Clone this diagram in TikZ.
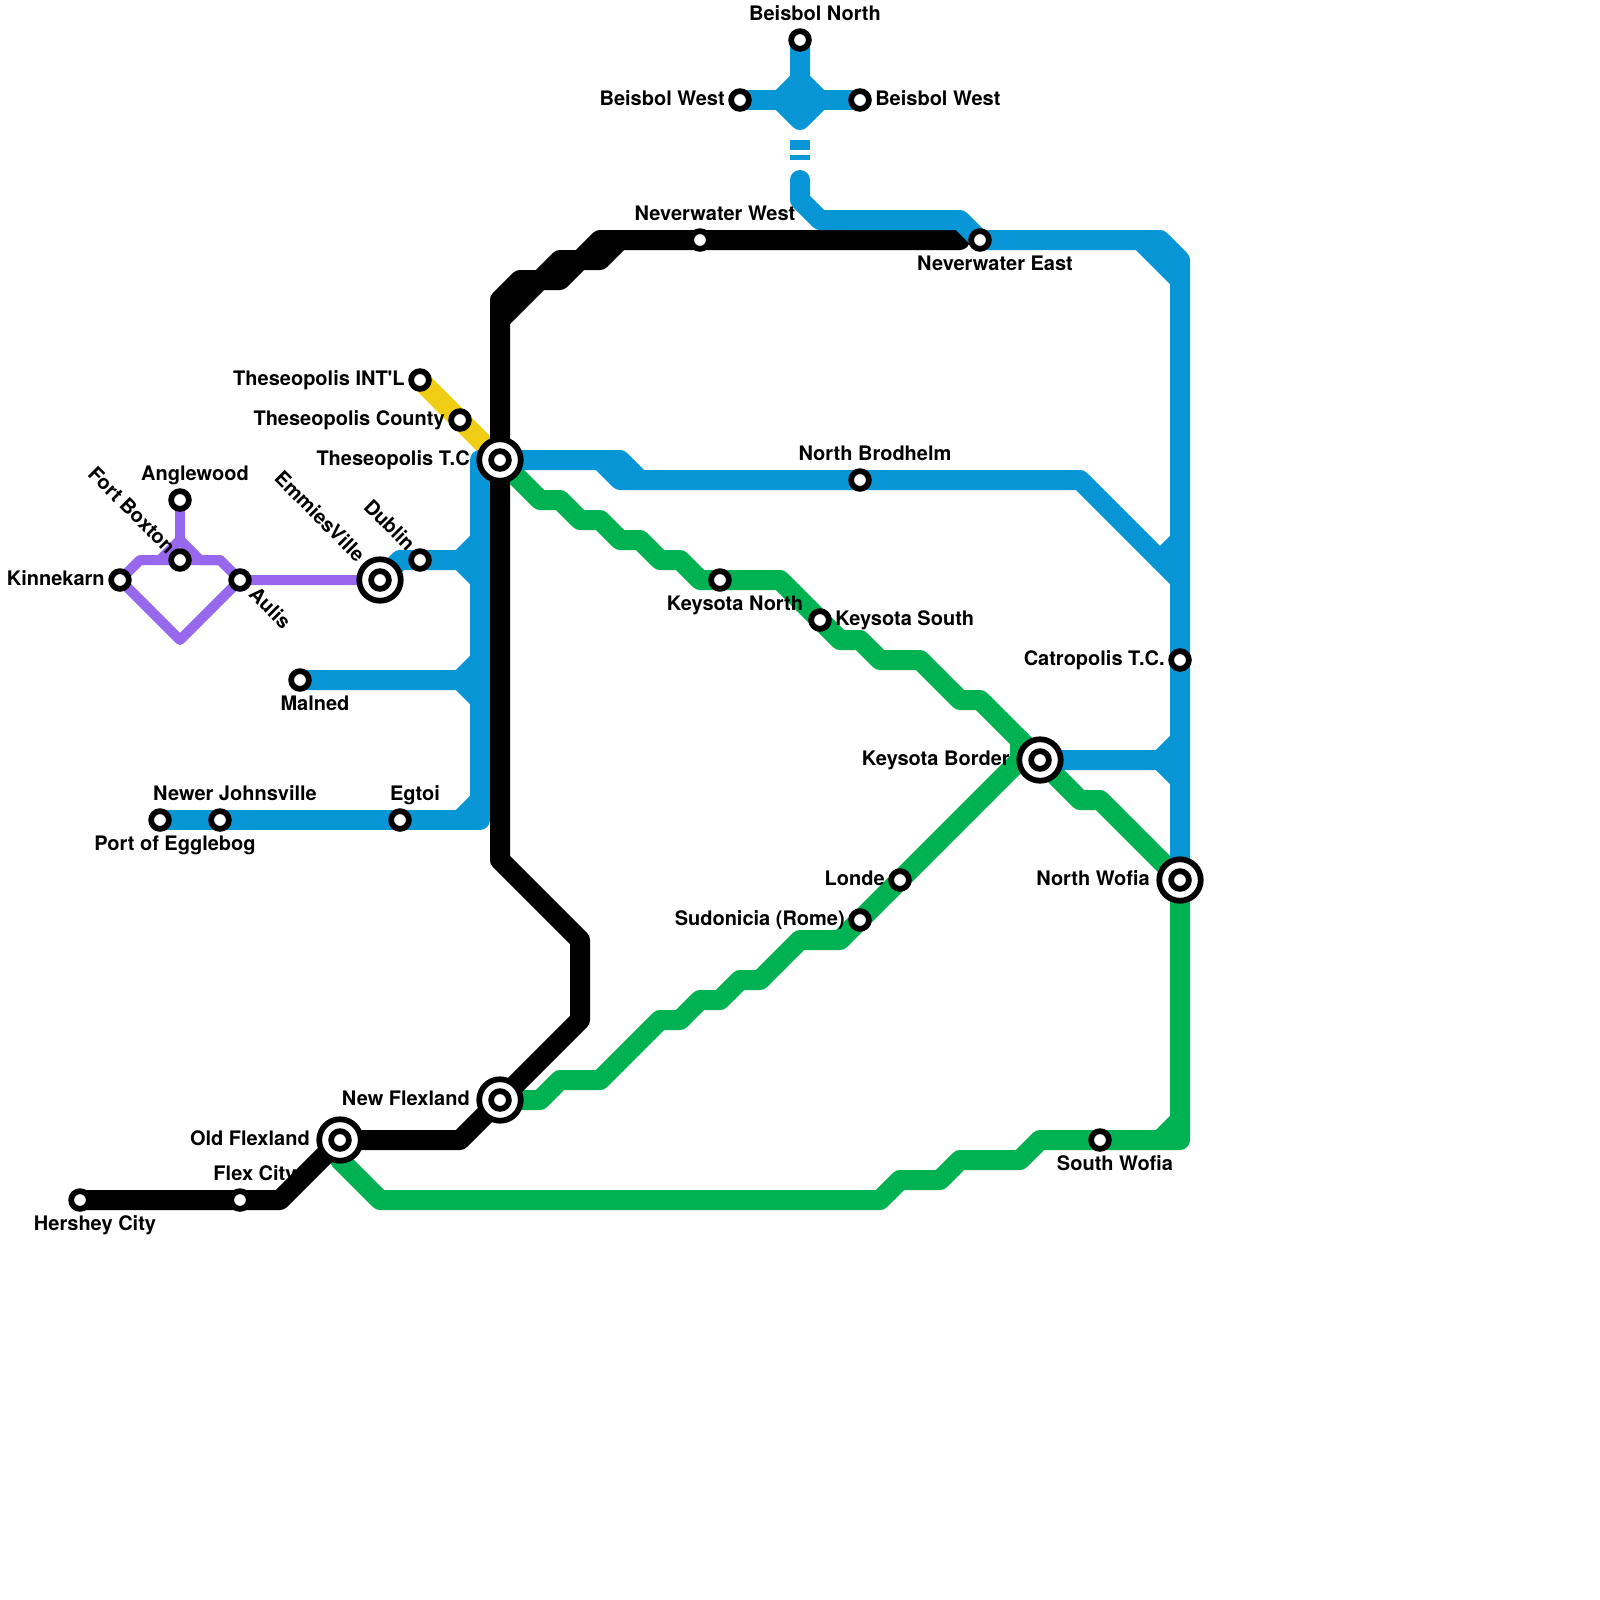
\documentclass[tikz,border=0pt]{standalone}
\usepackage{fontspec}
\newfontfamily\placefont{TeX Gyre Heros}
\pgfdeclarelayer{under}
\pgfdeclarelayer{tracks}
\pgfsetlayers{under,tracks,main}
\definecolor{lineblue}{HTML}{0896D7}
\definecolor{linegreen}{HTML}{00B251}
\definecolor{linepurple}{HTML}{9768EE}
\definecolor{lineyellow}{HTML}{F0CE15}
\tikzset{
  track/.style={line width=14.23pt, line join=round, line cap=round},
  thintrack/.style={line width=7.11pt, line join=round, line cap=round},
  station/.style={circle, draw=black, fill=white, line width=4.1pt, minimum size=12.6pt, inner sep=0pt},
  hub/.style={circle, draw=black, fill=white, line width=4.1pt, minimum size=29.5pt, inner sep=0pt},
  placename/.style={font=\placefont\fontsize{14.23}{17}\selectfont\bfseries, inner sep=0pt, text=black},
}
\begin{document}
\begin{tikzpicture}[x=0.5cm, y=-0.5cm]
    \useasboundingbox (0, 0) rectangle (80, 80);

    % Hubs
    \node[hub] (theseopolis) at (25, 23) {};
    \node[hub] (emmies) at (19, 29) {};
    \node[hub] (border) at (52, 38) {};
    \node[hub] (nwofia) at (59, 44) {};
    \node[hub] (newflex) at (25, 55) {};
    \node[hub] (oldflex) at (17, 57) {};

    % Stations
    \node[station] (hershey) at (4, 60) {};
    \node[station] (flexcity) at (12, 60) {};
    \node[station] (intl) at (21, 19) {};
    \node[station] (county) at (23, 21) {};
    \node[station] (dublin) at (21, 28) {};
    \node[station] (aulis) at (12, 29) {};
    \node[station] (boxton) at (9, 28) {};
    \node[station] (anglewood) at (9, 25) {};
    \node[station] (kinnekarn) at (6, 29) {};
    \node[station] (malned) at (15, 34) {};
    \node[station] (egglebog) at (8, 41) {};
    \node[station] (johnsville) at (11, 41) {};
    \node[station] (egtoi) at (20, 41) {};
    \node[station] (bnorth) at (40, 2) {};
    \node[station] (bwestl) at (37, 5) {};
    \node[station] (bwestr) at (43, 5) {};
    \node[station] (nwwest) at (35, 12) {};
    \node[station] (nweast) at (49, 12) {};
    \node[station] (brodhelm) at (43, 24) {};
    \node[station] (knorth) at (36, 29) {};
    \node[station] (ksouth) at (41, 31) {};
    \node[station] (catropolis) at (59, 33) {};
    \node[station] (londe) at (45, 44) {};
    \node[station] (sudonicia) at (43, 46) {};
    \node[station] (swofia) at (55, 57) {};

    \foreach \s in {theseopolis, emmies, border, nwofia, newflex, oldflex} {
      \node[station] (\s-core) at (\s) {};
    }

    \begin{pgfonlayer}{tracks}
      % Green
      \draw[track, linegreen] (theseopolis.center) -- (27, 25) -- (28, 25) -- (29, 26) -- (30, 26)
        -- (31, 27) -- (32, 27) -- (33, 28) -- (34, 28) -- (35, 29) -- (knorth.center) -- (39, 29)
        -- (ksouth.center) -- (42, 32) -- (43, 32) -- (44, 33) -- (46, 33) -- (48, 35) -- (49, 35)
        -- (border.center) -- (54, 40) -- (55, 40) -- (nwofia.center) -- (59, 57) -- (swofia.center)
        -- (52, 57) -- (51, 58) -- (48, 58) -- (47, 59) -- (45, 59) -- (44, 60) -- (19, 60)
        -- (17, 58) -- (oldflex.center);
      \draw[track, linegreen] (58, 57) -- (59, 56);
      \draw[track, linegreen] (newflex.center) -- (27, 55) -- (28, 54) -- (30, 54) -- (33, 51)
        -- (34, 51) -- (35, 50) -- (36, 50) -- (37, 49) -- (38, 49) -- (40, 47) -- (42, 47)
        -- (sudonicia.center) -- (londe.center) -- (51, 38) -- (51, 37);

      % Yellow
      \draw[track, lineyellow] (intl.center) -- (county.center) -- (theseopolis.center);

      % Purple
      \draw[thintrack, linepurple] (anglewood.center) -- (9, 27) -- (10, 28) -- (11, 28)
        -- (aulis.center) -- (emmies.center);
      \draw[thintrack, linepurple] (kinnekarn.center) -- (7, 28) -- (boxton.center) -- (11, 28);
      \draw[thintrack, linepurple] (8, 28) -- (9, 27);
      \draw[thintrack, linepurple] (kinnekarn.center) -- (9, 32) -- (aulis.center);

      % Blue trunk
      \draw[track, lineblue] (theseopolis.center) -- (24, 23) -- (24, 41) -- (egtoi.center)
        -- (johnsville.center) -- (egglebog.center);
      \draw[track, lineblue] (23, 41) -- (24, 40);
      \draw[track, lineblue] (malned.center) -- (23, 34) -- (24, 33);
      \draw[track, lineblue] (23, 34) -- (24, 35);
      \draw[track, lineblue] (emmies.center) -- (20, 28) -- (dublin.center) -- (23, 28) -- (24, 27);
      \draw[track, lineblue] (23, 28) -- (24, 29);

      % Black
      \draw[track, black] (hershey.center) -- (flexcity.center) -- (14, 60) -- (oldflex.center)
        -- (23, 57) -- (newflex.center) -- (29, 51) -- (29, 47) -- (25, 43) -- (theseopolis.center)
        -- (25, 15) -- (26, 14) -- (27, 14) -- (28, 13) -- (29, 13) -- (30, 12) -- (nwwest.center)
        -- (48, 12);
      \draw[track, black] (25, 16) -- (27, 14) -- (28, 14) -- (29, 13) -- (30, 13) -- (31, 12);

      % Blue north and east
      \draw[track, lineblue] (theseopolis.center) -- (30, 23) -- (31, 24) -- (brodhelm.center)
        -- (54, 24) -- (59, 29);
      \draw[track, lineblue] (30, 23) -- (31, 23) -- (32, 24);
      \draw[track, lineblue] (58, 28) -- (59, 27);
      \draw[track, lineblue] (40, 9) -- (40, 10) -- (41, 11) -- (48, 11) -- (nweast.center)
        -- (58, 12) -- (59, 13) -- (catropolis.center) -- (nwofia.center);
      \draw[track, lineblue] (57, 12) -- (59, 14);
      \draw[track, lineblue] (border.center) -- (58, 38) -- (59, 37);
      \draw[track, lineblue] (58, 38) -- (59, 39);
      \draw[track, lineblue] (bnorth.center) -- (40, 4) -- (39, 5) -- (40, 6) -- (41, 5) -- (40, 4);
      \draw[track, lineblue] (bwestl.center) -- (bwestr.center);
      \draw[track, lineblue, line cap=butt] (40, 7) -- (40, 7.5);
      \draw[track, lineblue, line cap=butt] (40, 7.75) -- (40, 8);
    \end{pgfonlayer}

    % Names
    \begin{pgfonlayer}{under}
      \node[placename, anchor=base west] (flexcity-name) at (10.66, 59) {Flex City};
    \end{pgfonlayer}
    \node[placename, anchor=base] (bnorth-name) at (40.75, 1) {Beisbol North};
    \node[placename, anchor=base east] (bwestl-name) at (36.25, 5.25) {Beisbol West};
    \node[placename, anchor=base west] (bwestr-name) at (43.75, 5.25) {Beisbol West};
    \node[placename, anchor=base] (nwwest-name) at (35.75, 11) {Neverwater West};
    \node[placename, anchor=base] (nweast-name) at (49.75, 13.5) {Neverwater East};
    \node[placename, anchor=base east] (intl-name) at (20.25, 19.25) {Theseopolis INT'L};
    \node[placename, anchor=base east] (county-name) at (22.25, 21.25) {Theseopolis County};
    \node[placename, anchor=base east] (theseopolis-name) at (23.5, 23.25) {Theseopolis T.C};
    \node[placename, anchor=base] (anglewood-name) at (9.75, 24) {Anglewood};
    \node[placename, anchor=base east] (kinnekarn-name) at (5.25, 29.25) {Kinnekarn};
    \node[placename, anchor=base] (malned-name) at (15.75, 35.5) {Malned};
    \node[placename, anchor=base] (johnsville-name) at (11.75, 40) {Newer Johnsville};
    \node[placename, anchor=base] (egtoi-name) at (20.75, 40) {Egtoi};
    \node[placename, anchor=base] (egglebog-name) at (8.75, 42.5) {Port of Egglebog};
    \node[placename, anchor=base] (brodhelm-name) at (43.75, 23) {North Brodhelm};
    \node[placename, anchor=base] (knorth-name) at (36.75, 30.5) {Keysota North};
    \node[placename, anchor=base west] (ksouth-name) at (41.75, 31.25) {Keysota South};
    \node[placename, anchor=base east] (catropolis-name) at (58.25, 33.25) {Catropolis T.C.};
    \node[placename, anchor=base east] (border-name) at (50.5, 38.25) {Keysota Border};
    \node[placename, anchor=base east] (nwofia-name) at (57.5, 44.25) {North Wofia};
    \node[placename, anchor=base east] (londe-name) at (44.25, 44.25) {Londe};
    \node[placename, anchor=base east] (sudonicia-name) at (42.25, 46.25) {Sudonicia (Rome)};
    \node[placename, anchor=base] (swofia-name) at (55.75, 58.5) {South Wofia};
    \node[placename, anchor=base east] (newflex-name) at (23.5, 55.25) {New Flexland};
    \node[placename, anchor=base east] (oldflex-name) at (15.5, 57.25) {Old Flexland};
    \node[placename, anchor=base] (hershey-name) at (4.75, 61.5) {Hershey City};

    % Slanted names
    \node[placename, anchor=east, rotate=-45] (boxton-name) at (8.6, 27.5) {Fort Boxton};
    \node[placename, anchor=east, rotate=-45] (emmies-name) at (18.1, 27.9) {EmmiesVille};
    \node[placename, anchor=east, rotate=-45] (dublin-name) at (20.6, 27.35) {Dublin};
    \node[placename, anchor=west, rotate=-45] (aulis-name) at (12.65, 29.5) {Aulis};
\end{tikzpicture}
\end{document}
